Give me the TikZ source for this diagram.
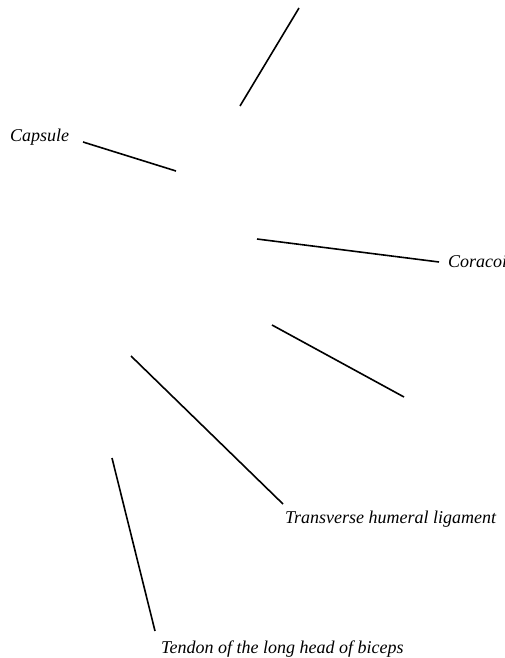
\documentclass[tikz,border=0pt]{standalone}
\usepackage{fontspec}
\setmainfont{Liberation Serif}
\begin{document}
\begin{tikzpicture}[x=1pt,y=-1pt,
  lbl/.style={anchor=base west,inner sep=0pt,font=\fontsize{18}{20}\selectfont\itshape},
  leader/.style={line width=1.6pt,line cap=butt}]
\useasboundingbox (0,0) rectangle (505,658);
\clip (0,0) rectangle (505,658);
% leader line ends
\coordinate (a1) at (299,8);   \coordinate (a2) at (240,106);
\coordinate (b1) at (83,142);  \coordinate (b2) at (176,171);
\coordinate (c1) at (257,239); \coordinate (c2) at (439,262);
\coordinate (d1) at (272,325); \coordinate (d2) at (404,397);
\coordinate (e1) at (131,356); \coordinate (e2) at (283,504);
\coordinate (f1) at (112,458); \coordinate (f2) at (155,631);
% labels
\node[lbl] (capsule) at (10,141) {Capsule};
\node[lbl] (coracoid) at (448,267) {Coracoid process};
\node[lbl] (transverse) at (285,523) {Transverse humeral ligament};
\node[lbl] (tendon) at (161,653) {Tendon of the long head of biceps};
% leaders
\draw[leader] (a1) -- (a2);
\draw[leader] (b1) -- (b2);
\draw[leader] (c1) -- (c2);
\draw[leader] (d1) -- (d2);
\draw[leader] (e1) -- (e2);
\draw[leader] (f1) -- (f2);
\end{tikzpicture}
\end{document}
